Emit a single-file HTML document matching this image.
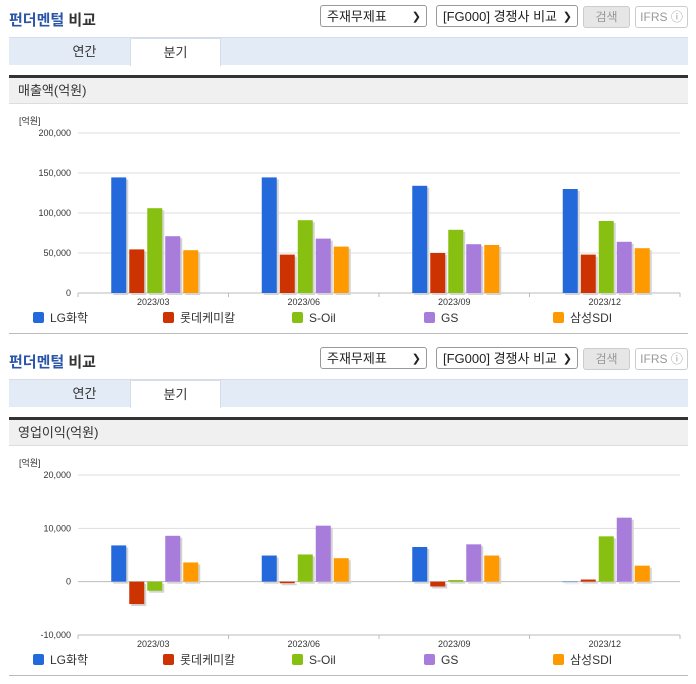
<!DOCTYPE html>
<html><head><meta charset="utf-8">
<style>
body{margin:0;width:696px;height:684px;background:#fff;font-family:"Liberation Sans","Noto Sans CJK KR",sans-serif;overflow:hidden;position:relative}
.sec{position:absolute;left:0;width:696px;height:342px}
.title{position:absolute;left:9px;top:9px;font-size:15px;font-weight:bold;color:#2a55a8}
.title span{color:#333;font-weight:bold}
.sel{position:absolute;top:5px;height:22px;border:1px solid #999;border-radius:3px;font-size:13px;color:#222;line-height:22px;padding-left:6px;box-sizing:border-box;background:#fff}
.sel i{position:absolute;right:5px;top:0;font-style:normal;font-size:11px}
.btn{position:absolute;top:6px;height:22px;border:1px solid #ccc;border-radius:3px;font-size:12px;color:#999;line-height:20px;text-align:center;box-sizing:border-box}
.tabs{position:absolute;left:9px;top:37px;width:679px;height:27px;background:#e3ebf6;border-top:1px solid #d5dde8}
.tab{position:absolute;top:0;height:27px;width:91px;text-align:center;line-height:27px;font-size:13px;color:#333}
.tab.on{background:#fff;border:1px solid #d5dde8;border-bottom:none;box-sizing:border-box;height:28px}
.sub{position:absolute;left:9px;top:75px;width:679px;height:29px;background:#f0f0f0;border-top:3px solid #333;box-sizing:border-box;font-size:13px;color:#333;line-height:26px;padding-left:9px;border-bottom:1px solid #ddd}
.bot{position:absolute;left:9px;top:333px;width:679px;height:1px;background:#bbb}
svg{position:absolute;left:0;top:0}
</style></head><body>
<div class="sec" id="s1" style="top:0"></div>
<div class="sec" id="s2" style="top:342px"></div>
<script>
const categories=["2023/03","2023/06","2023/09","2023/12"];
const seriesNames=["LG화학","롯데케미칼","S-Oil","GS","삼성SDI"];
const colors=["#2469dc","#cc3300","#88c011","#a77cdb","#ff9900"];
const salesLG=[144500,144500,134000,130000];
const salesLotte=[54500,48000,50000,48000];
const salesSOil=[106000,91000,79000,90000];
const salesGS=[71000,68000,61000,64000];
const salesSDI=[53500,58000,60000,56000];
const salesTicks=[0,50000,100000,150000,200000];
const opLG=[6800,4900,6500,0];
const opLotte=[-4200,-300,-900,400];
const opSOil=[-1700,5100,300,8500];
const opGS=[8600,10500,7000,12000];
const opSDI=[3600,4400,4900,3000];
const opTicks=[-10000,0,10000,20000];

function fmt(v){return v.toLocaleString('en-US');}
function build(sec,label,series,ticks,yMin,yMax,nm){
  const NS="http://www.w3.org/2000/svg";
  let h=`<div class="title">펀더멘털 <span>비교</span></div>
<div class="sel" style="left:320px;width:107px">주재무제표<i>&#10095;</i></div>
<div class="sel" style="left:436px;width:142px">[FG000] 경쟁사 비교<i>&#10095;</i></div>
<div class="btn" style="left:583px;width:47px;background:#e6e6e6;color:#999">검색</div>
<div class="btn" style="left:635px;width:53px;background:#fff">IFRS ⓘ</div>
<div class="tabs"><div class="tab" style="left:30px">연간</div><div class="tab on" style="left:121px">분기</div></div>
<div class="sub">${label}</div>
<div class="bot"></div>`;
  sec.innerHTML=h;
  const svg=document.createElementNS(NS,'svg');
  svg.setAttribute('width',696);svg.setAttribute('height',342);
  
  
  sec.appendChild(svg);
  const x0=78,x1=680,yTop=133,yBot=293;
  const y=v=>yBot-(v-yMin)/(yMax-yMin)*(yBot-yTop);
  const gw=(x1-x0)/categories.length;
  let s=`<text x="19" y="124" font-size="9" fill="#333">[억원]</text>`;
  ticks.forEach(t=>{
    s+=`<line x1="${x0}" x2="${x1}" y1="${y(t)}" y2="${y(t)}" stroke="${t===0?'#bbb':'#ddd'}"/>`;
    s+=`<text x="71" y="${y(t)+3}" font-size="9" fill="#333" text-anchor="end">${fmt(t)}</text>`;
  });
  const base=y(Math.max(0,yMin));
  s+=`<line x1="${x0}" x2="${x1}" y1="${yBot}" y2="${yBot}" stroke="#bbb"/>`;
  for(let i=0;i<=categories.length;i++) s+=`<line x1="${x0+i*gw}" x2="${x0+i*gw}" y1="${yBot}" y2="${yBot+4}" stroke="#bbb"/>`;
  svg.innerHTML=s;
  categories.forEach((c,i)=>{
    const cx=x0+gw*(i+0.5);
    const t=document.createElementNS(NS,'text');
    t.setAttribute('x',cx);t.setAttribute('y',yBot+12);t.setAttribute('font-size','9');t.setAttribute('fill','#333');t.setAttribute('text-anchor','middle');
    t.textContent=c;
    
    
    svg.appendChild(t);
    series.forEach((arr,k)=>{
      const v=arr[i];
      const bx=cx-42+k*18;
      const y0=y(0),yv=y(v);
      const top=Math.min(y0,yv),hh=Math.max(Math.abs(y0-yv),0.5);
      const sh=document.createElementNS(NS,'rect');
      sh.setAttribute('x',bx+2);sh.setAttribute('y',top+2);sh.setAttribute('width',15);sh.setAttribute('height',hh);sh.setAttribute('fill','#d4d4d4');
      
      
      svg.appendChild(sh);
      const r=document.createElementNS(NS,'rect');
      r.setAttribute('x',bx);r.setAttribute('y',top);r.setAttribute('width',15);r.setAttribute('height',hh);r.setAttribute('fill',colors[k]);
      
      
      svg.appendChild(r);
    });
  });
  const lx=[33,163,292,424,553];
  seriesNames.forEach((n,k)=>{
    const g=document.createElementNS(NS,'g');
    
    
    g.innerHTML=`<rect x="${lx[k]}" y="312" width="11" height="11" rx="2" fill="${colors[k]}"/><text x="${lx[k]+17}" y="322" font-size="12" fill="#333">${n}</text>`;
    svg.appendChild(g);
  });
}
build(document.getElementById('s1'),'매출액(억원)',[salesLG,salesLotte,salesSOil,salesGS,salesSDI],salesTicks,0,200000,'sales');
build(document.getElementById('s2'),'영업이익(억원)',[opLG,opLotte,opSOil,opGS,opSDI],opTicks,-10000,20000,'operating-profit');
</script>
</body></html>
